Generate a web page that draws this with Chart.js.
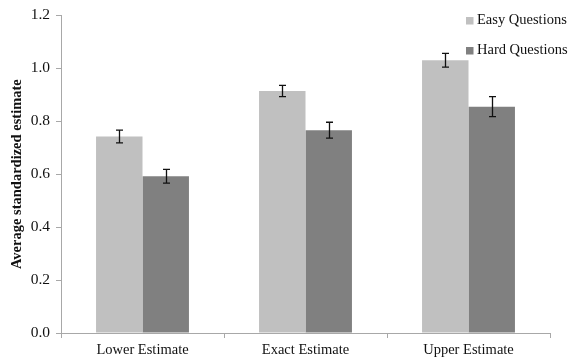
<!DOCTYPE html>
<html><head><meta charset="utf-8">
<script src="https://cdn.jsdelivr.net/npm/chart.js@4/dist/chart.umd.min.js"></script>
<style>html,body{margin:0;padding:0;background:#fff}#wrap{width:571px;height:358px}</style>
</head><body><div id="wrap"><canvas id="c" width="571" height="358"></canvas></div>
<script>
const categories = ["Lower Estimate", "Exact Estimate", "Upper Estimate"];
const seriesNames = ["Easy Questions", "Hard Questions"];
const easyValues = [0.742, 0.914, 1.030];
const hardValues = [0.592, 0.766, 0.855];
const easyErrors = [0.024, 0.021, 0.026];
const hardErrors = [0.026, 0.030, 0.038];
const yTicks = [0, 0.2, 0.4, 0.6, 0.8, 1.0, 1.2];

const errorsByDataset = [easyErrors, hardErrors];
const FONT = "'Liberation Serif', 'Times New Roman', serif";

const errorBarPlugin = {
  id: 'errorBars',
  afterDatasetsDraw(chart) {
    const ctx = chart.ctx, y = chart.scales.y;
    ctx.save();
    ctx.strokeStyle = '#111';
    ctx.lineWidth = 1.3;
    chart.data.datasets.forEach((ds, di) => {
      const meta = chart.getDatasetMeta(di);
      meta.data.forEach((bar, i) => {
        const v = ds.data[i], e = errorsByDataset[di][i];
        const x = Math.round(bar.x) + 0.5;
        const yt = y.getPixelForValue(v + e), yb = y.getPixelForValue(v - e);
        ctx.beginPath();
        ctx.moveTo(x, yt); ctx.lineTo(x, yb);
        ctx.moveTo(x - 3.5, yt); ctx.lineTo(x + 3.5, yt);
        ctx.moveTo(x - 3.5, yb); ctx.lineTo(x + 3.5, yb);
        ctx.stroke();
      });
    });
    ctx.restore();
  }
};

const legendPlugin = {
  id: 'vLegend',
  afterDraw(chart) {
    const ctx = chart.ctx;
    ctx.save();
    ctx.font = "14.5px " + FONT;
    ctx.textBaseline = 'middle';
    chart.data.datasets.forEach((ds, i) => {
      const cy = 20.5 + i * 30;
      ctx.fillStyle = ds.backgroundColor;
      ctx.fillRect(466, cy - 3.5, 7.5, 7.5);
      ctx.fillStyle = '#111';
      ctx.fillText(ds.label, 477, cy);
    });
    ctx.restore();
  }
};

new Chart(document.getElementById('c'), {
  type: 'bar',
  data: {
    labels: categories,
    datasets: [
      { label: seriesNames[0], data: easyValues, backgroundColor: '#c0c0c0' },
      { label: seriesNames[1], data: hardValues, backgroundColor: '#808080' }
    ]
  },
  options: {
    responsive: false,
    animation: false,
    devicePixelRatio: 1,
    layout: { padding: { top: 14, right: 21, left: 0, bottom: 0 } },
    categoryPercentage: 0.57,
    barPercentage: 1.0,
    plugins: { legend: { display: false }, tooltip: { enabled: false } },
    scales: {
      x: {
        offset: true,
        grid: { offset: true, drawOnChartArea: false, color: '#a8a8a8', tickLength: 5, tickColor: '#a8a8a8' },
        border: { color: '#a8a8a8', width: 1 },
        ticks: { color: '#111', font: { family: FONT, size: 14.5 }, padding: 3, maxRotation: 0 },
        afterFit(s) { s.height = 25; }
      },
      y: {
        min: 0, max: 1.2,
        afterBuildTicks(s) { s.ticks = yTicks.map(v => ({ value: v })); },
        grid: { drawOnChartArea: false, color: '#a8a8a8', tickLength: 5, tickColor: '#a8a8a8' },
        border: { color: '#a8a8a8', width: 1 },
        ticks: { color: '#111', font: { family: FONT, size: 15.5 }, padding: 6, callback: v => Number(v).toFixed(1) },
        title: { display: true, text: 'Average standardized estimate', color: '#111', font: { family: FONT, size: 14.5, weight: 'bold' }, padding: { top: 9, bottom: 0 } },
        afterFit(s) { s.width = 61; }
      }
    }
  },
  plugins: [errorBarPlugin, legendPlugin]
});
</script></body></html>
